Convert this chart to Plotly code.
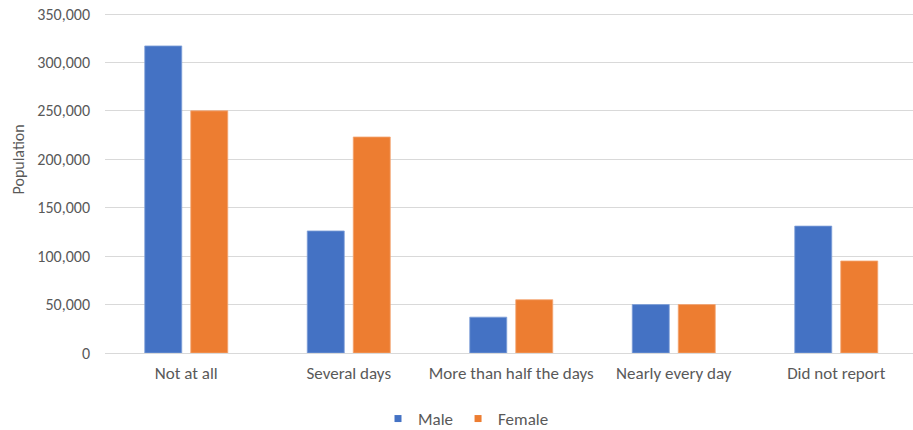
import plotly.graph_objects as go

categories = ["Not at all", "Several days", "More than half the days", "Nearly every day", "Did not report"]
male = [317000, 126000, 37000, 50000, 131000]
female = [250000, 223000, 55000, 50000, 95000]
series_names = ["Male", "Female"]
tick_vals = [0, 50000, 100000, 150000, 200000, 250000, 300000, 350000]

BLUE = "#4472C4"
ORANGE = "#ED7D31"
TEXT = "#595959"
FONT = "Carlito, Calibri, Lato, sans-serif"

W, H = 913, 430
L, R, T = 105, 0, 12
B = H - 353
cat_px = 162.5
bar_w = 37 / cat_px
half_sep = 23 / cat_px

fig = go.Figure()
fig.add_trace(go.Bar(x=categories, y=male, name=series_names[0], marker=dict(color=BLUE, line=dict(color="#7F9FD8", width=0.8)),
                     width=bar_w, offset=-half_sep - bar_w / 2, showlegend=False))
fig.add_trace(go.Bar(x=categories, y=female, name=series_names[1], marker=dict(color=ORANGE, line=dict(color="#F4A673", width=0.8)),
                     width=bar_w, offset=half_sep - bar_w / 2, showlegend=False))
# legend entries with small square markers
fig.add_trace(go.Scatter(x=[None], y=[None], mode="markers", name=series_names[0],
                         marker=dict(symbol="square", size=7, color=BLUE)))
fig.add_trace(go.Scatter(x=[None], y=[None], mode="markers", name=series_names[1],
                         marker=dict(symbol="square", size=7, color=ORANGE)))

plot_w = W - L - R
plot_h = H - T - B
x_right = -0.5 + plot_w / cat_px
# 350,000 sits at y=14 in the reference; plot top is 2px higher so the top gridline is drawn
y_top = 350000 * plot_h / (353 - 14)

fig.update_layout(
    width=W, height=H,
    margin=dict(l=L, r=R, t=T, b=B, autoexpand=False),
    paper_bgcolor="white", plot_bgcolor="white",
    barmode="overlay",
    font=dict(family=FONT, size=17, color=TEXT),
    showlegend=True,
    legend=dict(orientation="h", xref="container", yref="container", x=466 / W, xanchor="center",
                y=(H - 419) / H, yanchor="middle",
                font=dict(size=17, color=TEXT), itemwidth=30, tracegroupgap=0),
    xaxis=dict(type="category", range=[-0.5, x_right], showgrid=False, showline=False, zeroline=False,
               ticks="", tickfont=dict(size=17, color=TEXT), ticklabelstandoff=8, automargin=False),
    yaxis=dict(range=[0, y_top], tickvals=tick_vals, tickformat=",", showgrid=True, gridcolor="#D9D9D9", gridwidth=1.2,
               zeroline=True, zerolinecolor="#D9D9D9", zerolinewidth=1.2, showline=False, ticks="",
               tickfont=dict(size=16, color=TEXT), ticklabelstandoff=14, automargin=False,
               ticklabeloverflow="allow"),
    annotations=[dict(text="Population", textangle=-90, xref="paper", yref="paper",
                      x=(18 - L) / plot_w, y=(353 - 159.5) / plot_h, xanchor="center", yanchor="middle",
                      showarrow=False, font=dict(size=16, color=TEXT))],
)

# remove the default page margin so the figure fills the window exactly
fig.write_html("out.html", config={"displayModeBar": False},
               post_script="document.body.style.margin='0';document.body.style.overflow='hidden';")
